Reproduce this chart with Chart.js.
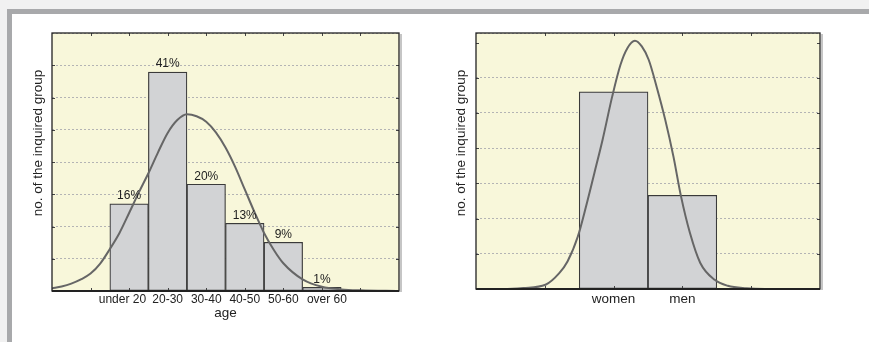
<!DOCTYPE html>
<html>
<head>
<meta charset="utf-8">
<script src="https://cdn.jsdelivr.net/npm/chart.js@4.4.0/dist/chart.umd.min.js"></script>
<style>
body { margin:0; background:#f1f1f1; width:869px; height:342px; overflow:hidden; position:relative; font-family:"Liberation Sans", Arial, sans-serif; }
#frame { position:absolute; left:7px; top:9px; right:0; bottom:0; background:#fff; border-top:5px solid #a8a9ab; border-left:5px solid #a8a9ab; }
.box { position:absolute; }
</style>
</head>
<body>
<div id="frame"></div>
<div class="box" style="left:20px;top:25px;width:400px;height:300px"><canvas id="age-chart"></canvas></div>
<div class="box" style="left:440px;top:25px;width:420px;height:300px"><canvas id="sex-chart"></canvas></div>
<script>
// age histogram
const ageLabels = ['under 20', '20-30', '30-40', '40-50', '50-60', 'over 60'];
const ageX = [0, 1, 2, 3, 4, 5];
const ageBars = [2.7, 6.79, 3.31, 2.1, 1.51, 0.11];
const agePercent = ['16%', '41%', '20%', '13%', '9%', '1%'];
const ageCurveX = [-2, -1.75, -1.5, -1.25, -1, -0.75, -0.5, -0.25, 0, 0.25, 0.5, 0.75, 1, 1.25, 1.5, 1.75, 2, 2.25, 2.5, 2.75, 3, 3.25, 3.5, 3.75, 4, 4.5, 5, 5.5, 6, 7];
const ageCurveY = [0.08, 0.14, 0.23, 0.36, 0.54, 0.85, 1.3, 1.8, 2.42, 3.05, 3.65, 4.3, 4.9, 5.3, 5.48, 5.42, 5.25, 4.92, 4.45, 3.85, 3.15, 2.45, 1.8, 1.28, 0.86, 0.36, 0.13, 0.05, 0.02, 0];

// gender histogram
const sexLabels = ['women', 'men'];
const sexX = [0, 1];
const sexBars = [5.6, 2.66];
const sexCurveX = [-2, -1.6, -1.31, -0.99, -0.79, -0.67, -0.52, -0.4, -0.28, -0.16, -0.02, 0.1, 0.2, 0.31, 0.41, 0.51, 0.63, 0.75, 0.87, 0.98, 1.11, 1.26, 1.47, 1.66, 1.93, 2.2, 3];
const sexCurveY = [0, 0, 0.03, 0.12, 0.45, 0.78, 1.49, 2.35, 3.29, 4.24, 5.47, 6.37, 6.84, 7.05, 6.89, 6.51, 5.71, 4.81, 3.76, 2.63, 1.59, 0.74, 0.26, 0.09, 0.02, 0, 0];

const yTitle = 'no. of the inquired group';
const font = '"Liberation Sans", Arial, sans-serif';

const plotFrame = {
  id: 'plotFrame',
  beforeDraw(chart) {
    const a = chart.chartArea, ctx = chart.ctx;
    ctx.save();
    ctx.fillStyle = '#f8f7da';
    ctx.fillRect(a.left, a.top, a.right - a.left, a.bottom - a.top);
    ctx.restore();
  },
  afterDraw(chart, args, opts) {
    const a = chart.chartArea, ctx = chart.ctx;
    ctx.save();
    // small inner ticks
    ctx.strokeStyle = '#444';
    ctx.lineWidth = 1;
    ctx.beginPath();
    opts.ticksX.forEach(v => {
      const px = Math.round(chart.scales.x.getPixelForValue(v)) + 0.5;
      ctx.moveTo(px, a.top); ctx.lineTo(px, a.top + 3);
      ctx.moveTo(px, a.bottom); ctx.lineTo(px, a.bottom - 3);
    });
    opts.ticksY.forEach(v => {
      const py = Math.round(chart.scales.y.getPixelForValue(v)) + 0.5;
      ctx.moveTo(a.left, py); ctx.lineTo(a.left + 3, py);
      ctx.moveTo(a.right, py); ctx.lineTo(a.right - 3, py);
    });
    ctx.stroke();
    // frame
    ctx.strokeStyle = '#8c8c8c';
    ctx.lineWidth = 1;
    ctx.beginPath();
    ctx.moveTo(a.right + 2, a.top + 1); ctx.lineTo(a.right + 2, a.bottom + 1);
    ctx.stroke();
    ctx.strokeStyle = '#222';
    ctx.lineWidth = 1.3;
    ctx.strokeRect(a.left, a.top, a.right - a.left, a.bottom - a.top);
    ctx.lineWidth = 2;
    ctx.beginPath();
    ctx.moveTo(a.left, a.bottom); ctx.lineTo(a.right, a.bottom);
    ctx.stroke();
    // percent labels
    if (opts.percent) {
      const bars = chart.getDatasetMeta(1).data;
      ctx.fillStyle = '#222';
      ctx.font = '12px ' + font;
      ctx.textAlign = 'center';
      ctx.textBaseline = 'middle';
      bars.forEach((b, i) => ctx.fillText(opts.percent[i], b.x, b.y - 8));
    }
    // side title
    ctx.translate(opts.titleX, opts.titleY);
    ctx.rotate(-Math.PI / 2);
    ctx.fillStyle = '#222';
    ctx.font = '13.5px ' + font;
    ctx.textAlign = 'center';
    ctx.textBaseline = 'middle';
    ctx.fillText(yTitle, 0, 0);
    ctx.restore();
  }
};

function histogram(id, c) {
  return new Chart(document.getElementById(id), {
    type: 'bar',
    plugins: [plotFrame],
    data: {
      datasets: [
        {
          type: 'line',
          order: 0,
          data: c.curveX.map((x, i) => ({ x: x, y: c.curveY[i] })),
          borderColor: '#666666',
          borderWidth: 2,
          pointRadius: 0,
          fill: false,
          cubicInterpolationMode: 'monotone'
        },
        {
          order: 1,
          data: c.barX.map((x, i) => ({ x: x, y: c.bars[i] })),
          backgroundColor: '#d2d3d5',
          borderColor: '#3a3a3a',
          borderWidth: 1.2,
          borderSkipped: false,
          barPercentage: 1,
          categoryPercentage: 1
        }
      ]
    },
    options: {
      responsive: true,
      maintainAspectRatio: false,
      animation: false,
      layout: { padding: { top: 8, right: c.padRight, left: 0, bottom: 0 } },
      plugins: {
        legend: { display: false },
        tooltip: { enabled: false },
        plotFrame: { ticksX: c.ticksX, ticksY: [1, 2, 3, 4, 5, 6, 7], percent: c.percent, titleX: c.titleX, titleY: 118 }
      },
      scales: {
        x: {
          type: 'linear',
          min: c.xMin,
          max: c.xMax,
          offset: false,
          grid: { display: false, drawTicks: false, offset: false },
          border: { display: false },
          afterFit: s => { s.height = c.xHeight; },
          ticks: {
            stepSize: 1,
            autoSkip: false,
            maxRotation: 0,
            padding: c.tickPad,
            color: '#222',
            font: { family: font, size: c.tickSize },
            callback: v => {
              if (!Number.isInteger(v) || v < 0 || v >= c.labels.length) return '';
              // first and last labels sit a little off the tick, as in the original
              if (c.spread && v === 0) return c.labels[v] + '    ';
              if (c.spread && v === c.labels.length - 1) return '   ' + c.labels[v];
              return c.labels[v];
            }
          },
          title: {
            display: !!c.xTitle,
            text: c.xTitle || '',
            color: '#222',
            font: { family: font, size: 13.5 },
            padding: { top: 0, bottom: 4 }
          }
        },
        y: {
          min: 0,
          max: c.yMax,
          afterFit: s => { s.width = c.yWidth; },
          ticks: { display: false, stepSize: 1 },
          grid: { color: '#b4b4b4', lineWidth: 1, drawTicks: false, borderDash: [2, 2] },
          border: { display: false, dash: [2, 2] }
        }
      }
    }
  });
}

histogram('age-chart', {
  labels: ageLabels, barX: ageX, bars: ageBars, percent: agePercent,
  curveX: ageCurveX, curveY: ageCurveY, spread: true, tickPad: 1,
  xMin: -2, xMax: 7, yMax: 8, ticksX: [-1, 0, 1, 2, 3, 4, 5, 6],
  xTitle: 'age', tickSize: 12, xHeight: 34, yWidth: 32, padRight: 21, titleX: 18
});

histogram('sex-chart', {
  labels: sexLabels, barX: sexX, bars: sexBars, percent: null,
  curveX: sexCurveX, curveY: sexCurveY, spread: false, tickPad: 2,
  xMin: -2, xMax: 3, yMax: 7.27, ticksX: [-1, 0, 1, 2],
  xTitle: null, tickSize: 13.5, xHeight: 36, yWidth: 36, padRight: 40, titleX: 21.7
});
</script>
</body>
</html>
